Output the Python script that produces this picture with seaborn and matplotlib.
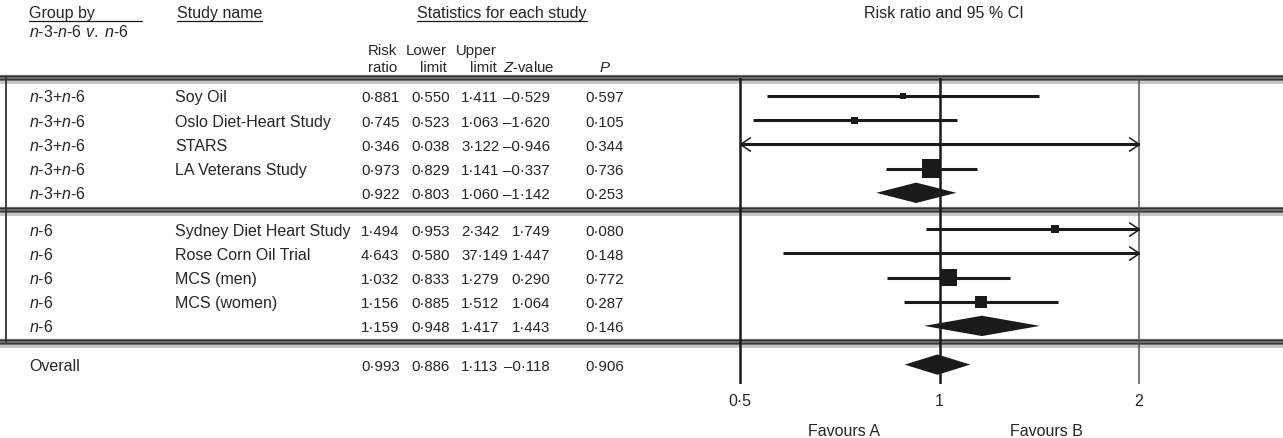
import re
import numpy as np
import pandas as pd
import matplotlib
matplotlib.use("Agg")
import matplotlib.pyplot as plt
from matplotlib.path import Path
from matplotlib.ticker import NullLocator
import seaborn as sns

# ---------------- data ----------------
groups = ["n-3+n-6", "n-3+n-6", "n-3+n-6", "n-3+n-6", "n-3+n-6",
          "n-6", "n-6", "n-6", "n-6", "n-6", "Overall"]
studies = ["Soy Oil", "Oslo Diet-Heart Study", "STARS", "LA Veterans Study", "",
           "Sydney Diet Heart Study", "Rose Corn Oil Trial", "MCS (men)", "MCS (women)", "",
           ""]
risk_ratio = [0.881, 0.745, 0.346, 0.973, 0.922, 1.494, 4.643, 1.032, 1.156, 1.159, 0.993]
lower_limit = [0.550, 0.523, 0.038, 0.829, 0.803, 0.953, 0.580, 0.833, 0.885, 0.948, 0.886]
upper_limit = [1.411, 1.063, 3.122, 1.141, 1.060, 2.342, 37.149, 1.279, 1.512, 1.417, 1.113]
z_value = [-0.529, -1.620, -0.946, -0.337, -1.142, 1.749, 1.447, 0.290, 1.064, 1.443, -0.118]
p_value = [0.597, 0.105, 0.344, 0.736, 0.253, 0.080, 0.148, 0.772, 0.287, 0.146, 0.906]
is_summary = [False, False, False, False, True, False, False, False, False, True, True]
weight = [3, 6, 0.3, 40, np.nan, 7, 0.3, 30, 17, np.nan, np.nan]   # relative study weight
axis_ticks = [0.5, 1, 2]
axis_tick_labels = ["0·5", "1", "2"]

# ---------------- style ----------------
sns.set_theme(style="white")
plt.rcParams["font.family"] = ["Liberation Sans", "DejaVu Sans"]
plt.rcParams["mathtext.fontset"] = "custom"
plt.rcParams["mathtext.it"] = "Liberation Sans:italic"
plt.rcParams["mathtext.rm"] = "Liberation Sans"
FS = 11.5      # labels
FSN = 10.8     # numbers and column headers

W, H = 1283, 439
fig = plt.figure(figsize=(W / 100, H / 100), dpi=100)
bg = fig.add_axes([0, 0, 1, 1], zorder=0)
bg.set_xlim(0, W)
bg.set_ylim(H, 0)
bg.axis("off")

ROW0, ROWH = 97, 24.2
row_pos = [0, 1, 2, 3, 4, 5.5, 6.5, 7.5, 8.5, 9.5, 11.1]


def ypix(r):
    return ROW0 + ROWH * r


def ital_n(s):
    return re.sub(r"\bn(?=-)", r"$\\it{n}$", s)


def fmt(v):
    return f"{v:.3f}".replace(".", "·").replace("-", "–")


BASE = 5.5  # baseline offset from row centre (px)

# ---------------- bands / frame ----------------
band_rows = [-0.75, 4.7, 10.15]
for br in band_rows:
    y = ypix(br)
    bg.plot([0, W], [y, y], color="#7a7a7a", lw=4.5, solid_capstyle="butt", zorder=1)
    bg.plot([0, W], [y - 1.8, y - 1.8], color="#2e2e2e", lw=1.0, zorder=2)
    bg.plot([0, W], [y + 1.2, y + 1.2], color="#3a3a3a", lw=1.0, zorder=2)
    bg.plot([0, W], [y + 4.2, y + 4.2], color="#c4c4c4", lw=2.0, zorder=1)
bg.plot([6, 6], [ypix(band_rows[0]), ypix(band_rows[2])], color="#333333", lw=1.3, zorder=2)

# ---------------- headers ----------------
t_group = bg.text(29, 18, "Group by", fontsize=FS, va="baseline")
t_study = bg.text(177, 18, "Study name", fontsize=FS, va="baseline")
t_stats = bg.text(502, 18, "Statistics for each study", fontsize=FS, va="baseline", ha="center")
bg.text(944, 18, "Risk ratio and 95 % CI", fontsize=FS, va="baseline", ha="center")
bg.text(29, 37, r"$\it{n}$-3-$\it{n}$-6 $\it{v.}$ $\it{n}$-6", fontsize=FS, va="baseline")

col_risk, col_low, col_up, col_z, col_p = 361, 411, 461, 550, 585
hdr1, hdr2 = 55, 72
for cx, l1, l2 in [(397, "Risk", "ratio"), (447, "Lower", "limit"), (497, "Upper", "limit")]:
    bg.text(cx, hdr1, l1, fontsize=FSN, va="baseline", ha="right")
    bg.text(cx, hdr2, l2, fontsize=FSN, va="baseline", ha="right")
bg.text(529, hdr2, r"$\it{Z}$-value", fontsize=FSN, va="baseline", ha="center")
bg.text(605, hdr2, r"$\it{P}$", fontsize=FSN, va="baseline", ha="center")

# underlines
fig.canvas.draw()
rend = fig.canvas.get_renderer()
inv = bg.transData.inverted()
for t, x_end in [(t_group, 142), (t_study, None), (t_stats, None)]:
    bb = t.get_window_extent(rend)
    (xa, _), (xb, _) = inv.transform([[bb.x0, bb.y0], [bb.x1, bb.y1]])
    if x_end is not None:
        xb = x_end
    bg.plot([xa, xb], [21.5, 21.5], color="k", lw=0.9)

# ---------------- table body ----------------
for i, r in enumerate(row_pos):
    yb = ypix(r) + BASE
    bg.text(29, yb, ital_n(groups[i]), fontsize=FS, va="baseline")
    if studies[i]:
        bg.text(175, yb, studies[i], fontsize=FS, va="baseline")
    bg.text(col_risk, yb, fmt(risk_ratio[i]), fontsize=FSN, va="baseline")
    bg.text(col_low, yb, fmt(lower_limit[i]), fontsize=FSN, va="baseline")
    bg.text(col_up, yb, fmt(upper_limit[i]), fontsize=FSN, va="baseline")
    bg.text(col_z, yb, fmt(z_value[i]), fontsize=FSN, va="baseline", ha="right")
    bg.text(col_p, yb, fmt(p_value[i]), fontsize=FSN, va="baseline")

# ---------------- forest panel ----------------
L, R, T, B = 690, W, ypix(band_rows[0]), 385
fx = fig.add_axes([L / W, 1 - B / H, (R - L) / W, (B - T) / H], zorder=3)
fx.patch.set_alpha(0)
fx.set_xscale("log")
PX_PER_DOUBLING = 199.5
XMIN, XMAX = 0.5, 2.0
x_left = XMIN * 2 ** (-(740 - L) / PX_PER_DOUBLING)
x_right = XMAX * 2 ** ((R - 1139) / PX_PER_DOUBLING)

for v, c, lw in [(0.5, "k", 1.8), (1, "k", 1.8), (2, "#555555", 1.1)]:
    fx.axvline(v, color=c, lw=lw, zorder=1)

df = pd.DataFrame({"rr": risk_ratio, "lo": lower_limit, "hi": upper_limit,
                   "row": row_pos, "summary": is_summary, "w": weight})

chev_r = Path([(-1.5, 1.0), (0, 0), (-1.5, -1.0)], [Path.MOVETO, Path.LINETO, Path.LINETO])
chev_l = Path([(1.5, 1.0), (0, 0), (1.5, -1.0)], [Path.MOVETO, Path.LINETO, Path.LINETO])

studies_df = df[~df["summary"]]
for _, d in studies_df.iterrows():
    lo_c, hi_c = max(d.lo, XMIN), min(d.hi, XMAX)
    fx.hlines(d.row, lo_c, hi_c, color="k", lw=2.2, zorder=2)
    if d.lo < XMIN:
        fx.plot([lo_c], [d.row], marker=chev_l, ms=15, mfc="none", mec="k", mew=1.1, zorder=3)
    if d.hi > XMAX:
        fx.plot([hi_c], [d.row], marker=chev_r, ms=15, mfc="none", mec="k", mew=1.1, zorder=3)

vis = studies_df[(studies_df.rr >= XMIN) & (studies_df.rr <= XMAX)]
size_map = {w: (0.72 * 3.0 * np.sqrt(w)) ** 2 for w in vis["w"]}
sns.scatterplot(data=vis, x="rr", y="row", size="w", sizes=size_map, marker="s",
                color="k", edgecolor="none", linewidth=0, legend=False, ax=fx, zorder=4)

DH = 0.42
for _, d in df[df["summary"]].iterrows():
    fx.fill([d.lo, d.rr, d.hi, d.rr], [d.row, d.row - DH, d.row, d.row + DH],
            color="k", lw=0, zorder=4)

fx.set_xlim(x_left, x_right)
fx.set_ylim((B - ROW0) / ROWH, (T - ROW0) / ROWH)
fx.set_xticks(axis_ticks)
fx.set_xticklabels(axis_tick_labels, fontsize=FS)
fx.xaxis.set_minor_locator(NullLocator())
fx.tick_params(axis="x", length=0, pad=6.5)
fx.set_yticks([])
fx.set_xlabel("")
fx.set_ylabel("")
for s in fx.spines.values():
    s.set_visible(False)

bg.text(844, 436, "Favours A", fontsize=FS, va="baseline", ha="center")
bg.text(1046, 436, "Favours B", fontsize=FS, va="baseline", ha="center")

fig.savefig("out.png", dpi=100)
